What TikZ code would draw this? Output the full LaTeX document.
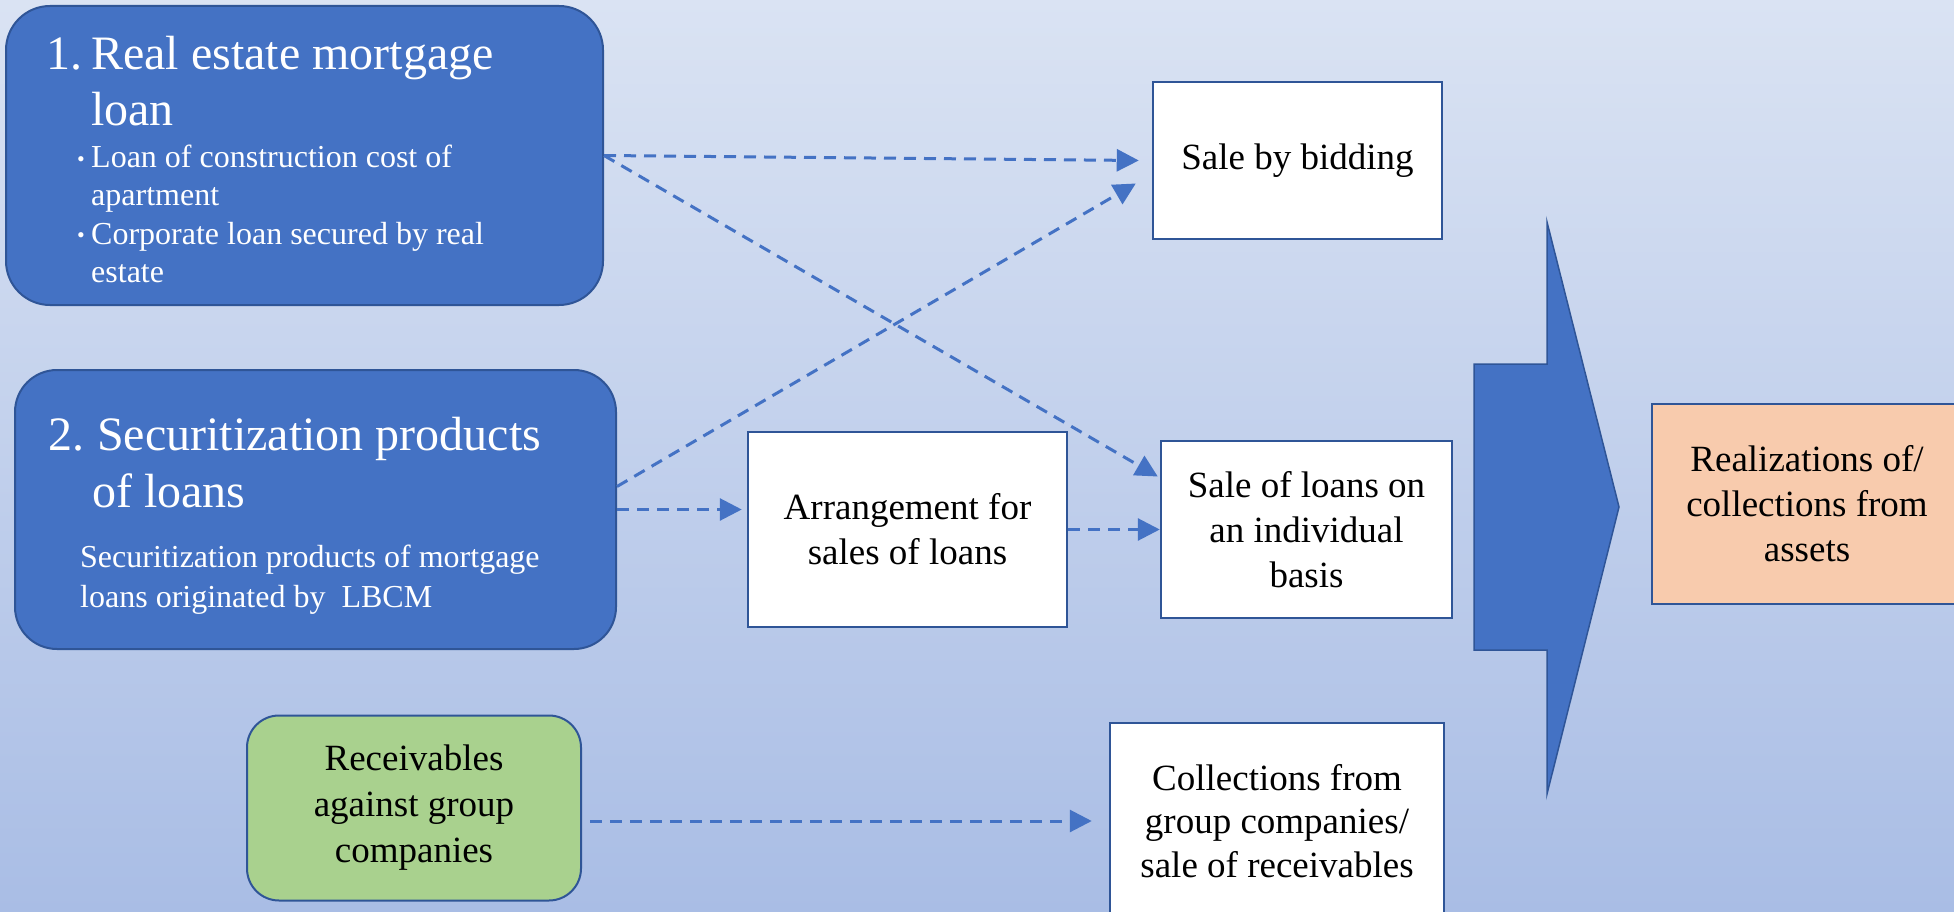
\documentclass[tikz,border=0pt]{standalone}
\usepackage{fontspec}
\setmainfont{Liberation Serif}
\usetikzlibrary{arrows.meta}
\definecolor{accblue}{HTML}{4472C4}
\definecolor{darkblue}{HTML}{2F5597}
\definecolor{bgtop}{HTML}{DAE3F3}
\definecolor{bgbot}{HTML}{A9BDE5}
\definecolor{greenfill}{HTML}{A9D18E}
\definecolor{peach}{HTML}{F8CBAD}
\begin{document}
\begin{tikzpicture}[x=1pt,y=-1pt,
  bluebox/.style={draw=darkblue, line width=2pt, fill=accblue, inner sep=0pt},
  whitebox/.style={draw=darkblue, line width=2.5pt, fill=white, inner sep=0pt, align=center, text=black, font=\fontsize{37}{45}\selectfont},
  hd/.style={inner sep=0pt, anchor=base west, text=white, font=\fontsize{48}{56}\selectfont},
  sub/.style={inner sep=0pt, anchor=base west, text=white, font=\fontsize{32}{39}\selectfont},
  bul/.style={inner sep=0pt, anchor=base west, text=white, font=\fontsize{22}{22}\selectfont},
  conn/.style={draw=accblue, line width=3pt, dash pattern=on 12pt off 8pt, -{Triangle[length=22pt,width=22pt]}},
  bigarrow/.style={draw=darkblue, line width=1.5pt, fill=accblue, line join=miter}
]
\useasboundingbox (0,0) rectangle (1954,912);
\shade[top color=bgtop, bottom color=bgbot] (0,0) rectangle (1954,912);

% source boxes
\node[bluebox, rounded corners=44pt, minimum width=597pt, minimum height=299pt] (b1) at (304.5,155.5) {};
\node[bluebox, rounded corners=42pt, minimum width=601pt, minimum height=279pt] (b2) at (315.5,509.5) {};
\node[draw=darkblue, line width=2pt, fill=greenfill, rounded corners=32pt, minimum width=334pt, minimum height=185pt, inner sep=0pt, align=center, font=\fontsize{37}{46}\selectfont] (g) at (414,808) {Receivables\\against group\\companies};

% box 1 text
\node[hd] (b1n) at (46,70) {1.};
\node[hd] (b1a) at (91,70) {Real estate mortgage};
\node[hd] (b1b) at (91,126) {loan};
\node[bul] (b1d1) at (77,167) {•};
\node[sub] (b1c) at (91,168) {Loan of construction cost of};
\node[sub] (b1d) at (91,206) {apartment};
\node[bul] (b1d2) at (77,243) {•};
\node[sub] (b1e) at (91,244) {Corporate loan secured by real};
\node[sub] (b1f) at (91,282) {estate};

% box 2 text
\node[hd] (b2n) at (48,450) {2.};
\node[hd] (b2a) at (97,450) {Securitization products};
\node[hd] (b2b) at (92,507) {of loans};
\node[sub] (b2c) at (80,567) {Securitization products of mortgage};
\node[sub] (b2d) at (80,607) {loans originated by\ \ LBCM};

% target boxes
\node[whitebox, minimum width=289pt, minimum height=157pt] (bid) at (1297.5,160.5) {Sale by bidding};
\node[whitebox, minimum width=319pt, minimum height=195pt] (arr) at (907.5,529.5) {Arrangement for\\sales of loans};
\node[whitebox, minimum width=291pt, minimum height=177pt] (sl) at (1306.5,529.5) {Sale of loans on\\an individual\\basis};
\node[whitebox, minimum width=334pt, minimum height=196pt, font=\fontsize{37}{43.5}\selectfont] (col) at (1277,821) {Collections from\\group companies/\\sale of receivables};
\node[draw=darkblue, line width=2pt, fill=peach, minimum width=310pt, minimum height=200pt, inner sep=0pt, align=center, font=\fontsize{37}{45}\selectfont] (real) at (1807,504) {Realizations of/\\collections from\\assets};

% big arrow
\draw[bigarrow] (1474,364) -- (1547,364) -- (1547,222) -- (1619,507) -- (1547,794) -- (1547,650) -- (1474,650) -- cycle;

% connectors
\draw[conn] (b1.east) -- ([xshift=-13pt]bid.west);
\draw[conn] (b1.east) -- ([xshift=-2pt,yshift=53pt]sl.west);
\draw[conn] ([yshift=23pt]b2.east) -- ([xshift=-16pt,yshift=-23pt]bid.west);
\draw[conn, shorten >=5pt] (b2.east) -- (b2.east -| arr.west);
\draw[conn] (arr.east) -- (sl.west);
\draw[conn] ([xshift=8pt]g.east |- col.west) -- ([xshift=-17pt]col.west);
\end{tikzpicture}
\end{document}
